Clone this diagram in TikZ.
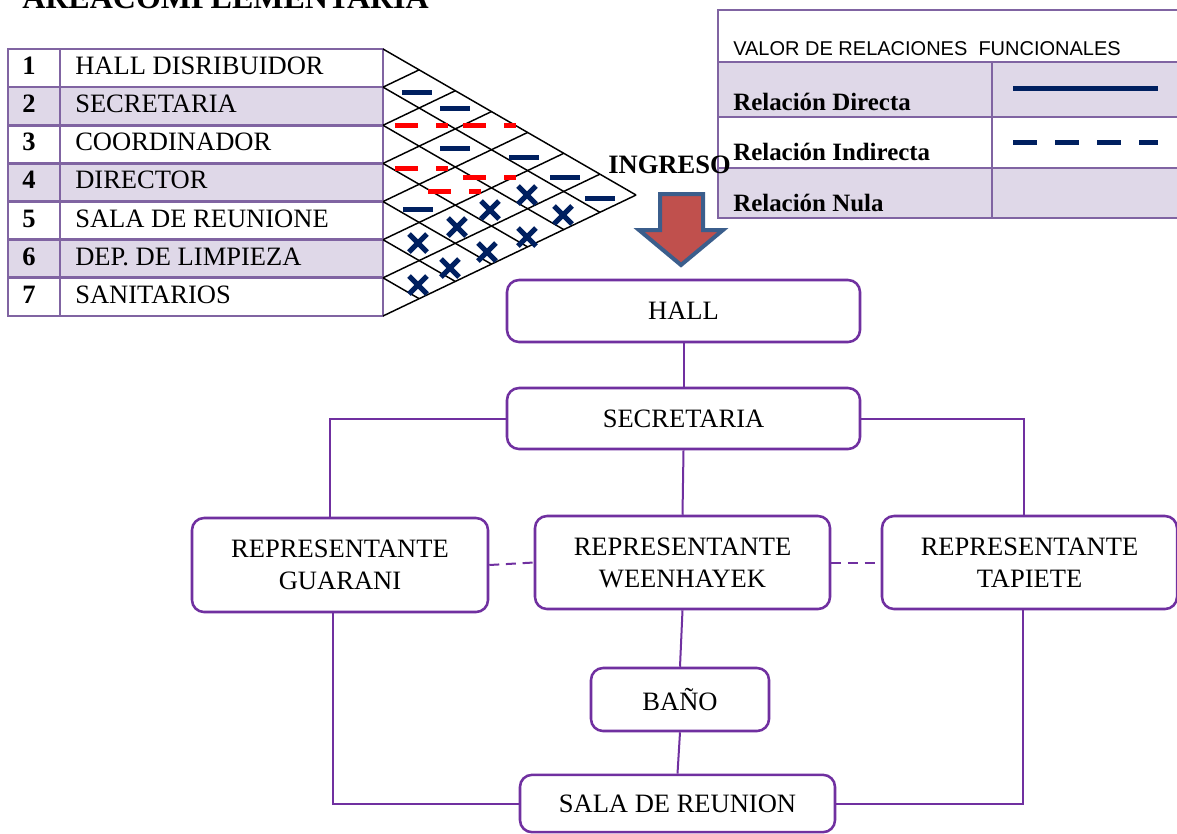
\documentclass[tikz,border=0pt]{standalone}
\usepackage{fontspec}
\setmainfont{Liberation Serif}
\newfontfamily\hdrfont{Liberation Sans}
\definecolor{tblpurple}{HTML}{8064A2}
\definecolor{lav}{HTML}{DFD8E8}
\definecolor{boxpurple}{HTML}{7030A0}
\definecolor{navy}{HTML}{002060}
\definecolor{arrowred}{HTML}{C0504D}
\definecolor{arrowblue}{HTML}{3B5E8C}
\newcommand\fsbox{\fontsize{19.9pt}{24pt}\selectfont}
\newcommand\fsleg{\fontsize{18.7pt}{22pt}\selectfont}
\newcommand\fstitle{\fontsize{24pt}{28pt}\selectfont}
\newcommand\fshdr{\fontsize{15pt}{18pt}\selectfont}
\newcommand\mxbd[2]{\draw[bd] (#1-15,#2) -- (#1+15,#2);}
\newcommand\mxrd[2]{\draw[rd] (#1,#2) -- ++(23,0); \draw[rd] (#1+41,#2) -- ++(12,0);}
\newcommand\mxx[2]{\draw[xm] (#1-9,#2-9) -- (#1+9,#2+9); \draw[xm] (#1-9,#2+9) -- (#1+9,#2-9);}
\begin{document}
\begin{tikzpicture}[x=0.75pt,y=-0.75pt,
  tblline/.style={draw=tblpurple,line width=2pt},
  gridln/.style={draw=black,line width=1.1pt},
  bd/.style={draw=navy,line width=3.75pt},
  rd/.style={draw=red,line width=3.75pt},
  xm/.style={draw=navy,line width=3.75pt},
  box/.style={draw=boxpurple,line width=1.9pt,rounded corners=9pt,fill=white,align=center,font=\fsbox,inner sep=0pt},
  conn/.style={draw=boxpurple,line width=1.5pt},
  dconn/.style={conn,dash pattern=on 7.5pt off 5pt},
  lbl/.style={anchor=base west,inner sep=0pt,font=\fsbox},
  num/.style={anchor=base,inner sep=0pt,font=\fsbox\bfseries},
  leg/.style={anchor=base west,inner sep=0pt,font=\fsleg\bfseries}]
\useasboundingbox (0,0) rectangle (1177,833);
\clip (0,0) rectangle (1177,833);
\fill[white] (0,0) rectangle (1177,833);

% title
\node[anchor=base west,inner sep=0pt,font=\fstitle\bfseries] (title) at (22,8.5) {AREACOMPLEMENTARIA};

% left table
\fill[lav] (8,87.1) rectangle (383,125.3);
\fill[lav] (8,163.4) rectangle (383,201.6);
\fill[lav] (8,239.7) rectangle (383,277.8);
\foreach \y in {87.1,125.3,163.4,201.6,239.7,277.8} \draw[tblline] (8,\y) -- (383,\y);
\draw[tblline] (60,49) -- (60,316);
\draw[tblline] (8,49) rectangle (383,316);
\node[num] (k1) at (29,74.5) {1};
\node[num] (k2) at (29,112.6) {2};
\node[num] (k3) at (29,150.8) {3};
\node[num] (k4) at (29,188.9) {4};
\node[num] (k5) at (29,227.1) {5};
\node[num] (k6) at (29,265.2) {6};
\node[num] (k7) at (29,303.3) {7};
\node[lbl] (t1) at (75,74.5) {HALL DISRIBUIDOR};
\node[lbl] (t2) at (75,112.6) {SECRETARIA};
\node[lbl] (t3) at (75,150.8) {COORDINADOR};
\node[lbl] (t4) at (75,188.9) {DIRECTOR};
\node[lbl] (t5) at (75,227.1) {SALA DE REUNIONE};
\node[lbl] (t6) at (75,265.2) {DEP. DE LIMPIEZA};
\node[lbl] (t7) at (75,303.3) {SANITARIOS};

% relation matrix grid
\foreach \i in {0,...,6}{
  \pgfmathsetmacro\yy{49+38.14*\i}
  \pgfmathsetmacro\dd{(7-\i)*36.15}
  \draw[gridln] (383,\yy) -- ++(\dd,0.577*\dd);
}
\foreach \j in {1,...,7}{
  \pgfmathsetmacro\yy{49+38.14*\j}
  \pgfmathsetmacro\dd{\j*36.15}
  \draw[gridln] (383,\yy) -- ++(\dd,-0.478*\dd);
}
% symbols
\mxbd{417}{92}
\mxbd{455}{108}
\mxbd{455}{148}
\mxbd{524}{157}
\mxbd{565}{177}
\mxbd{600}{198}
\mxbd{418}{209}
\mxrd{395}{125}
\mxrd{463}{125}
\mxrd{395}{168}
\mxrd{463}{177}
\mxrd{428}{191}
\mxx{527}{195}
\mxx{490}{210}
\mxx{563}{215}
\mxx{457}{227}
\mxx{527}{237}
\mxx{418}{243}
\mxx{487}{252}
\mxx{450}{268}
\mxx{418}{285}

% legend table
\fill[lav] (718,62) rectangle (1190,117);
\fill[lav] (718,168) rectangle (1190,218);
\draw[tblline] (1190,10) -- (718,10) -- (718,218) -- (1190,218);
\foreach \y in {62,117,168} \draw[tblline] (718,\y) -- (1190,\y);
\draw[tblline] (992,62) -- (992,218);
\node[anchor=base west,inner sep=0pt,font=\hdrfont\fshdr] (hdr) at (733,55) {VALOR DE RELACIONES\ \ FUNCIONALES};
\node[leg] (l1) at (733,110) {Relación Directa};
\node[leg] (l2) at (733,160) {Relación Indirecta};
\node[leg] (l3) at (733,211) {Relación Nula};
\draw[bd] (1013,88) -- (1158,88);
\draw[bd,dash pattern=on 18pt off 13.5pt] (1013,142) -- (1158,142);

% ingreso
\node[anchor=base west,inner sep=0pt,font=\fsbox\bfseries] (ing) at (608,173) {INGRESO};
\draw[fill=arrowred,draw=arrowblue,line width=3pt] (660,194) -- (703,194) -- (703,230) -- (723,230) -- (681,265) -- (639,230) -- (660,230) -- cycle;

% flow diagram
\node[box,minimum width=264.75pt,minimum height=46.5pt] (hall) at (683.5,311) {HALL};
\node[box,minimum width=264.75pt,minimum height=45.75pt] (sec) at (683.5,418.5) {SECRETARIA};
\node[box,minimum width=222pt,minimum height=70.5pt] (guar) at (340,565) {REPRESENTANTE\\GUARANI};
\node[box,minimum width=221.25pt,minimum height=69.75pt] (ween) at (682.5,562.5) {REPRESENTANTE\\WEENHAYEK};
\node[box,minimum width=221.25pt,minimum height=69.75pt] (tap) at (1029.5,562.5) {REPRESENTANTE\\TAPIETE};
\node[box,minimum width=133.5pt,minimum height=47.25pt] (bano) at (680,699.5) {BAÑO};
\node[box,minimum width=236.25pt,minimum height=43pt] (sala) at (677.5,803.5) {SALA DE REUNION};

\draw[conn] (hall.south) -- (sec.north);
\draw[conn] (sec.south) -- (ween.north);
\draw[conn] (sec.west) -| ([xshift=-7.5pt]guar.north);
\draw[conn] (sec.east) -| ([xshift=-4pt]tap.north);
\draw[dconn] (guar.east) -- (ween.west);
\draw[dconn] (ween.east) -- (tap.west);
\draw[conn] (ween.south) -- (bano.north);
\draw[conn] (bano.south) -- (sala.north);
\draw[conn] ([xshift=-5.25pt]guar.south) |- (sala.west);
\draw[conn] ([xshift=-4.9pt]tap.south) |- (sala.east);
\end{tikzpicture}
\end{document}
